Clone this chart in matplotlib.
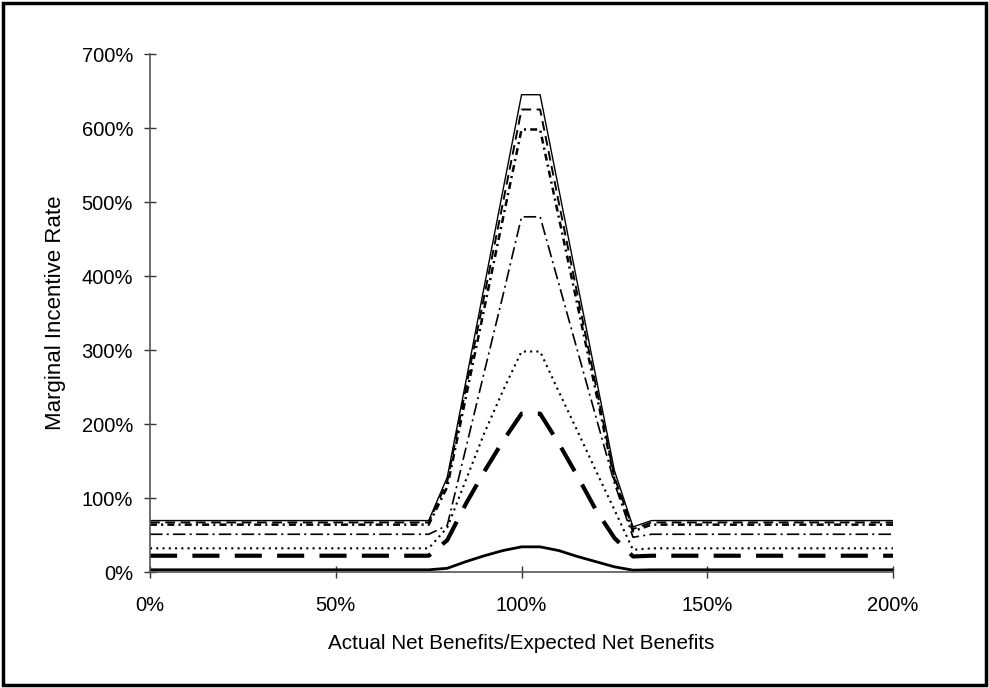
import matplotlib
matplotlib.use("Agg")
import matplotlib.pyplot as plt
from matplotlib.ticker import FuncFormatter
from matplotlib.patches import Rectangle

plt.rcParams['font.family'] = ['Liberation Sans', 'DejaVu Sans']
plt.rcParams['lines.scale_dashes'] = False

# x positions: 0% .. 200% in 5% steps
x = list(range(0, 205, 5))

def build(flat, mid):
    # flat level for 0..75 and 135..200; mid covers 80..130
    return [flat] * 16 + mid + [flat] * 14

s1_mid = [128, 257, 387, 516, 645, 645, 518, 391, 264, 137, 61]
s2_mid = [122, 248, 374, 499, 625, 625, 500, 376, 252, 128, 58]
s3_mid = [115, 236, 357, 478, 598, 598, 480, 362, 244, 125, 55]
s4_mid = [63, 167, 271, 374, 480, 480, 390, 300, 210, 120, 47]
s5_mid = [60, 124, 188, 245, 298, 298, 244, 191, 137, 84, 30]
s6_mid = [43, 92, 136, 177, 214, 214, 174, 130, 84, 46, 21]
s7_mid = [5, 14, 22, 29, 34, 34, 29, 21, 14, 7, 2.5]

s1 = build(69.5, s1_mid)
s2 = build(67, s2_mid)
s3 = build(64, s3_mid)
s4 = build(51, s4_mid)
s5 = build(32, s5_mid)
s6 = build(22, s6_mid)
s7 = build(3, s7_mid)

xticks = [0, 50, 100, 150, 200]
yticks = [0, 100, 200, 300, 400, 500, 600, 700]

fig = plt.figure(figsize=(9.89, 6.88), dpi=100)
ax = fig.add_axes([0.1517, 0.1686, 0.7513, 0.7529])

ax.plot(x, s1, color='black', lw=1.0)
ax.plot(x, s2, color='black', lw=1.4, dashes=(7, 4))
ax.plot(x, s3, color='black', lw=1.8, dashes=(5, 3, 1.5, 3))
ax.plot(x, s4, color='black', lw=1.2, dashes=(9, 3, 1.5, 3))
ax.plot(x, s5, color='black', lw=1.5, dashes=(1.5, 3))
ax.plot(x, s6, color='black', lw=3.0, dashes=(19.5, 11))
ax.plot(x, s7, color='black', lw=2.0)

ax.set_xlim(0, 200)
ax.set_ylim(0, 700)
ax.set_xticks(xticks)
ax.set_yticks(yticks)
fmt = FuncFormatter(lambda v, p: f"{int(v)}%")
ax.xaxis.set_major_formatter(fmt)
ax.yaxis.set_major_formatter(fmt)

for side in ['top', 'right']:
    ax.spines[side].set_visible(False)
for side in ['left', 'bottom']:
    ax.spines[side].set_color('#555555')
    ax.spines[side].set_linewidth(1.2)
ax.tick_params(axis='both', direction='inout', length=8.5, width=1, color='#333333',
               labelsize=14.5)
ax.tick_params(axis='x', pad=13.3)
ax.tick_params(axis='y', pad=8)

ax.set_ylabel('Marginal Incentive Rate', fontsize=16)
ax.yaxis.set_label_coords(-0.113, 0.5)
ax.set_xlabel('Actual Net Benefits/Expected Net Benefits', fontsize=14.9)
ax.xaxis.set_label_coords(0.5, -0.1197)

fig.patches.append(Rectangle((0.003, 0.004), 0.994, 0.992, transform=fig.transFigure,
                             fill=False, edgecolor='black', lw=2.5))

fig.savefig('out.png', dpi=100, facecolor='white')
